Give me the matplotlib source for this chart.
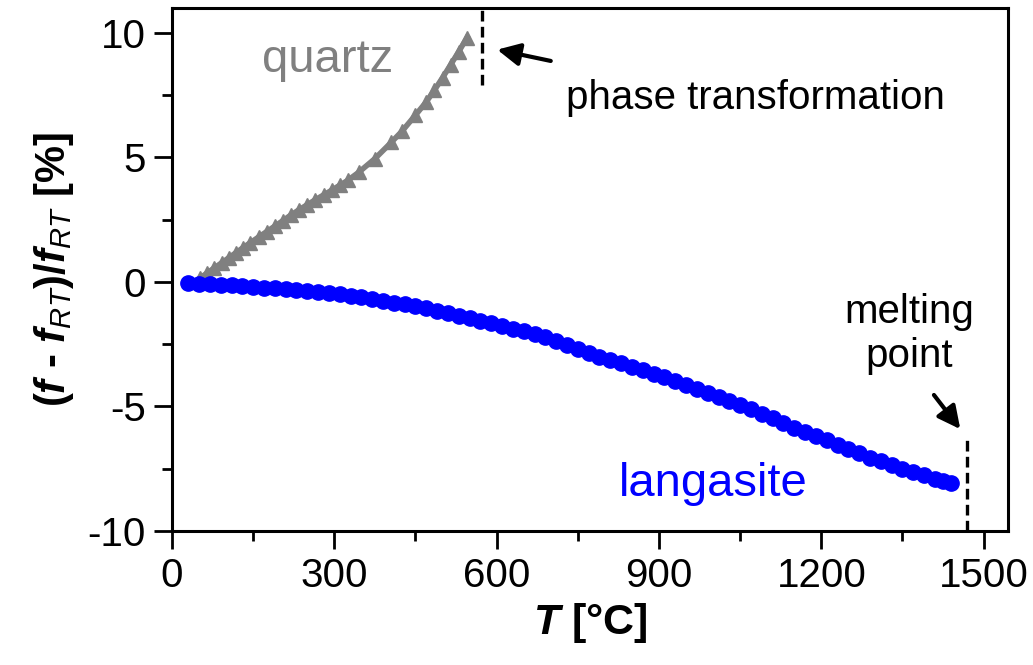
import matplotlib
matplotlib.use('Agg')
import matplotlib.pyplot as plt

# langasite: relative frequency shift vs temperature
lgs_T = [30, 50, 70, 90, 110, 130, 150, 170, 190, 210, 230, 250, 270, 290, 310,
         330, 350, 370, 390, 410, 430, 450, 470, 490, 510, 530, 550, 570, 590,
         610, 630, 650, 670, 690, 710, 730, 750, 770, 790, 810, 830, 850, 870,
         890, 910, 930, 950, 970, 990, 1010, 1030, 1050, 1070, 1090, 1110, 1130,
         1150, 1170, 1190, 1210, 1230, 1250, 1270, 1290, 1310, 1330, 1350, 1370,
         1390, 1410, 1425, 1440]
lgs_df = [-0.05, -0.07, -0.09, -0.11, -0.14, -0.17, -0.20, -0.23, -0.26, -0.30,
          -0.34, -0.38, -0.42, -0.46, -0.50, -0.55, -0.62, -0.69, -0.77, -0.84,
          -0.90, -0.98, -1.06, -1.15, -1.25, -1.35, -1.45, -1.55, -1.65, -1.76,
          -1.87, -1.98, -2.09, -2.22, -2.36, -2.52, -2.70, -2.85, -3.00, -3.13,
          -3.27, -3.40, -3.54, -3.68, -3.83, -3.98, -4.14, -4.30, -4.46, -4.62,
          -4.78, -4.95, -5.12, -5.30, -5.48, -5.67, -5.85, -6.02, -6.19, -6.36,
          -6.53, -6.70, -6.88, -7.05, -7.20, -7.35, -7.50, -7.63, -7.77, -7.90,
          -7.98, -8.07]

# quartz
qz_T = [52, 65, 78, 92, 105, 118, 131, 145, 160, 175, 190, 205, 220, 235, 250,
        265, 280, 295, 310, 325, 345, 375, 405, 425, 450, 470, 485, 500, 515,
        530, 545]
qz_df = [0.16, 0.36, 0.56, 0.77, 0.97, 1.17, 1.37, 1.58, 1.80, 2.02, 2.24, 2.46,
         2.69, 2.90, 3.10, 3.30, 3.49, 3.68, 3.88, 4.08, 4.40, 4.95, 5.60, 6.05,
         6.70, 7.23, 7.70, 8.20, 8.72, 9.25, 9.80]

T_phase = 573
T_melt = 1470

plt.rcParams['font.family'] = ['Liberation Sans', 'DejaVu Sans']
plt.rcParams['mathtext.fontset'] = 'custom'
plt.rcParams['mathtext.rm'] = 'Liberation Sans'
plt.rcParams['mathtext.bf'] = 'Liberation Sans:bold'
plt.rcParams['mathtext.it'] = 'Liberation Sans:italic'
plt.rcParams['mathtext.bfit'] = 'Liberation Sans:italic:bold'

fig = plt.figure(figsize=(10.33, 6.65), dpi=100)
ax = fig.add_axes([0.1665, 0.2015, 0.8093, 0.7865])

ax.plot(qz_T, qz_df, color='#808080', lw=4, marker='^', ms=10, zorder=3)
ax.plot(lgs_T, lgs_df, color='#0000ff', lw=3, marker='o', ms=11, zorder=4)

ax.plot([T_phase, T_phase], [7.9, 11], color='black', ls=(0, (3.2, 1.6)), lw=2.4)
ax.plot([T_melt, T_melt], [-10, -6.2], color='black', ls=(0, (3.2, 1.6)), lw=2.4)

ax.annotate('', xy=(596, 9.35), xytext=(705, 8.85),
            arrowprops=dict(arrowstyle='-|>', color='black', lw=3, mutation_scale=34))
ax.annotate('', xy=(1460, -6.0), xytext=(1405, -4.45),
            arrowprops=dict(arrowstyle='-|>', color='black', lw=3, mutation_scale=34))

ax.text(728, 7.4, 'phase transformation', fontsize=29, va='center', ha='left')
ax.text(1362, -2.1, 'melting\npoint', fontsize=29, va='center', ha='center',
        linespacing=1.2)
ax.text(287, 8.9, 'quartz', fontsize=34, color='#808080', va='center', ha='center')
ax.text(1000, -8.1, 'langasite', fontsize=34, color='#0000ff', va='center', ha='center')

ax.set_xlim(0, 1545)
ax.set_ylim(-10, 11)
ax.set_xticks([0, 300, 600, 900, 1200, 1500])
ax.set_xticks([150, 450, 750, 1050, 1350], minor=True)
ax.set_yticks([-10, -5, 0, 5, 10])
ax.set_yticks([-7.5, -2.5, 2.5, 7.5], minor=True)
ax.set_yticklabels(['-10', '-5', '0', '5', '10'])

ax.tick_params(which='major', direction='out', length=13, width=2, labelsize=29, pad=6)
ax.tick_params(which='minor', direction='out', length=7, width=2)
for s in ax.spines.values():
    s.set_linewidth(2.2)

ax.set_xlabel(r'$\mathbfit{T}$ [°C]', fontsize=31, fontweight='bold', labelpad=4)
ax.set_ylabel(r'($\mathbfit{f}$ - $\mathbfit{f}_{\mathit{RT}}$)/$\mathbfit{f}_{\mathit{RT}}$ [%]',
              fontsize=30, fontweight='bold', labelpad=8)

fig.savefig('out.png', dpi=100)
